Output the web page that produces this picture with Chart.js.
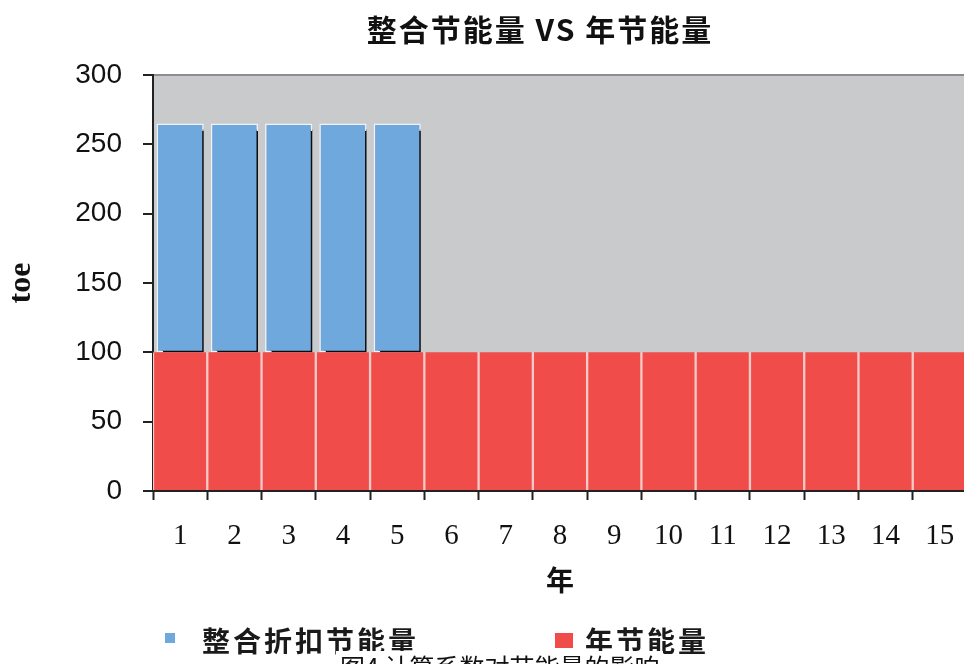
<!DOCTYPE html>
<html>
<head>
<meta charset="utf-8">
<script src="https://cdn.jsdelivr.net/npm/chart.js@4/dist/chart.umd.min.js"></script>
<style>
  html, body { margin: 0; padding: 0; background: #fff; }
  body { width: 964px; height: 664px; overflow: hidden; position: relative; }
  #wrap { position: absolute; left: 0; top: 0; width: 1080px; height: 664px; }
  #title { position: absolute; left: 0; width: 1080px; top: 10px; text-align: center; font-family: "Noto Sans CJK SC", sans-serif; font-weight: bold; font-size: 30px; line-height: 36px; letter-spacing: 2px; color: #111; }
  #legend { position: absolute; top: 624px; left: 0; height: 32px; font-family: "Noto Sans CJK SC", sans-serif; font-weight: bold; font-size: 28px; color: #1a1a1a; }
  .item { position: absolute; top: 0; white-space: nowrap; line-height: 32px; letter-spacing: 3px; }
  .box { position: absolute; }
  #caption { position: absolute; left: 336px; top: 651px; padding: 0 4px; background: #fff; font-family: "Noto Sans CJK SC", sans-serif; font-size: 25px; line-height: 30px; color: #111; white-space: nowrap; }
</style>
</head>
<body>
<div id="wrap"><canvas id="energyChart" width="1080" height="664"></canvas></div>
<div id="title">整合节能量 VS 年节能量</div>
<div id="legend"></div>
<div id="caption">图4 计算系数对节能量的影响</div>
<script>
const years = ['1', '2', '3', '4', '5', '6', '7', '8', '9', '10', '11', '12', '13', '14', '15'];
const annualSaving = [100, 100, 100, 100, 100, 100, 100, 100, 100, 100, 100, 100, 100, 100, 100];
const integratedSaving = [165, 165, 165, 165, 165, null, null, null, null, null, null, null, null, null, null];
const yTicks = [0, 50, 100, 150, 200, 250, 300];

const RED = '#ef4c4a';
const BLUE = '#6fa8dc';
const PLOT_BG = '#c9cacc';
const AXIS = '#222222';

// grey plot area
const plotBackground = {
  id: 'plotBackground',
  beforeDraw(chart) {
    const { ctx, chartArea: a } = chart;
    ctx.save();
    ctx.fillStyle = PLOT_BG;
    ctx.fillRect(a.left, a.top, a.right - a.left, a.bottom - a.top);
    ctx.restore();
  }
};

// dark drop shadow on the blue bars (old office-chart look)
const barShadow = {
  id: 'barShadow',
  beforeDatasetDraw(chart, args) {
    if (args.index !== 1) return;
    const ctx = chart.ctx;
    ctx.save();
    ctx.shadowColor = 'rgba(0,0,0,0.95)';
    ctx.shadowOffsetX = 5;
    ctx.shadowOffsetY = 6;
    ctx.shadowBlur = 0;
  },
  afterDatasetDraw(chart, args) {
    if (args.index === 1) chart.ctx.restore();
  }
};

const ctx = document.getElementById('energyChart');
const chart = new Chart(ctx, {
  type: 'bar',
  data: {
    labels: years,
    datasets: [
      {
        label: '年节能量',
        data: annualSaving,
        backgroundColor: RED,
        borderColor: '#f5c9c7',
        borderWidth: { left: 1.5, right: 1.5, top: 0, bottom: 0 },
        borderSkipped: false,
        barPercentage: 1,
        categoryPercentage: 1
      },
      {
        label: '整合折扣节能量',
        data: integratedSaving,
        backgroundColor: BLUE,
        borderColor: '#eef3f8',
        borderWidth: 1.5,
        borderSkipped: false,
        barPercentage: 0.87,
        categoryPercentage: 1
      }
    ]
  },
  options: {
    responsive: false,
    animation: false,
    layout: { padding: { top: 75, right: 113, bottom: 63, left: 0 } },
    scales: {
      x: {
        stacked: true,
        offset: true,
        afterFit(scale) { scale.height = 110; },
        grid: { offset: true, drawOnChartArea: false, drawTicks: true, tickLength: 9, tickColor: AXIS, tickWidth: 2 },
        border: { display: true, color: AXIS, width: 2 },
        ticks: { color: '#111', padding: 19, font: { family: '"Liberation Serif", serif', size: 29 }, maxRotation: 0, autoSkip: false },
        title: { display: true, text: '年', color: '#111', padding: { top: 0, bottom: 4 }, font: { family: '"Noto Sans CJK SC", sans-serif', size: 28, weight: 'bold' } }
      },
      y: {
        stacked: true,
        min: 0,
        max: 300,
        afterBuildTicks(axis) { axis.ticks = yTicks.map(v => ({ value: v })); },
        afterFit(scale) { scale.width = 153; },
        grid: {
          drawOnChartArea: true,
          color: c => (c.tick && c.tick.value === 300 ? '#8d8d8f' : 'rgba(0,0,0,0)'),
          lineWidth: 2,
          drawTicks: true,
          tickLength: 10,
          tickColor: AXIS,
          tickWidth: 2
        },
        border: { display: true, color: AXIS, width: 2 },
        ticks: { color: '#111', padding: 21, font: { family: '"Liberation Sans", sans-serif', size: 28 } },
        title: { display: true, text: 'toe', color: '#111', padding: { top: 3, bottom: 15 }, font: { family: '"Liberation Serif", serif', size: 32, weight: 'bold' } }
      }
    },
    plugins: {
      legend: { display: false },
      tooltip: { enabled: false },
      title: { display: false }
    }
  },
  plugins: [plotBackground, barShadow]
});

// legend below the chart, built from the datasets (blue first, as in the source)
const legendPos = [
  { box: [165, 9, 10, 10], text: 202 },
  { box: [555, 9, 18, 15], text: 585 }
];
const legend = document.getElementById('legend');
chart.data.datasets.slice().reverse().forEach((ds, i) => {
  const p = legendPos[i];
  const box = document.createElement('div');
  box.className = 'box';
  box.style.left = p.box[0] + 'px';
  box.style.top = p.box[1] + 'px';
  box.style.width = p.box[2] + 'px';
  box.style.height = p.box[3] + 'px';
  box.style.background = ds.backgroundColor;
  legend.appendChild(box);
  const item = document.createElement('div');
  item.className = 'item';
  item.style.left = p.text + 'px';
  item.textContent = ds.label;
  legend.appendChild(item);
});
</script>
</body>
</html>
